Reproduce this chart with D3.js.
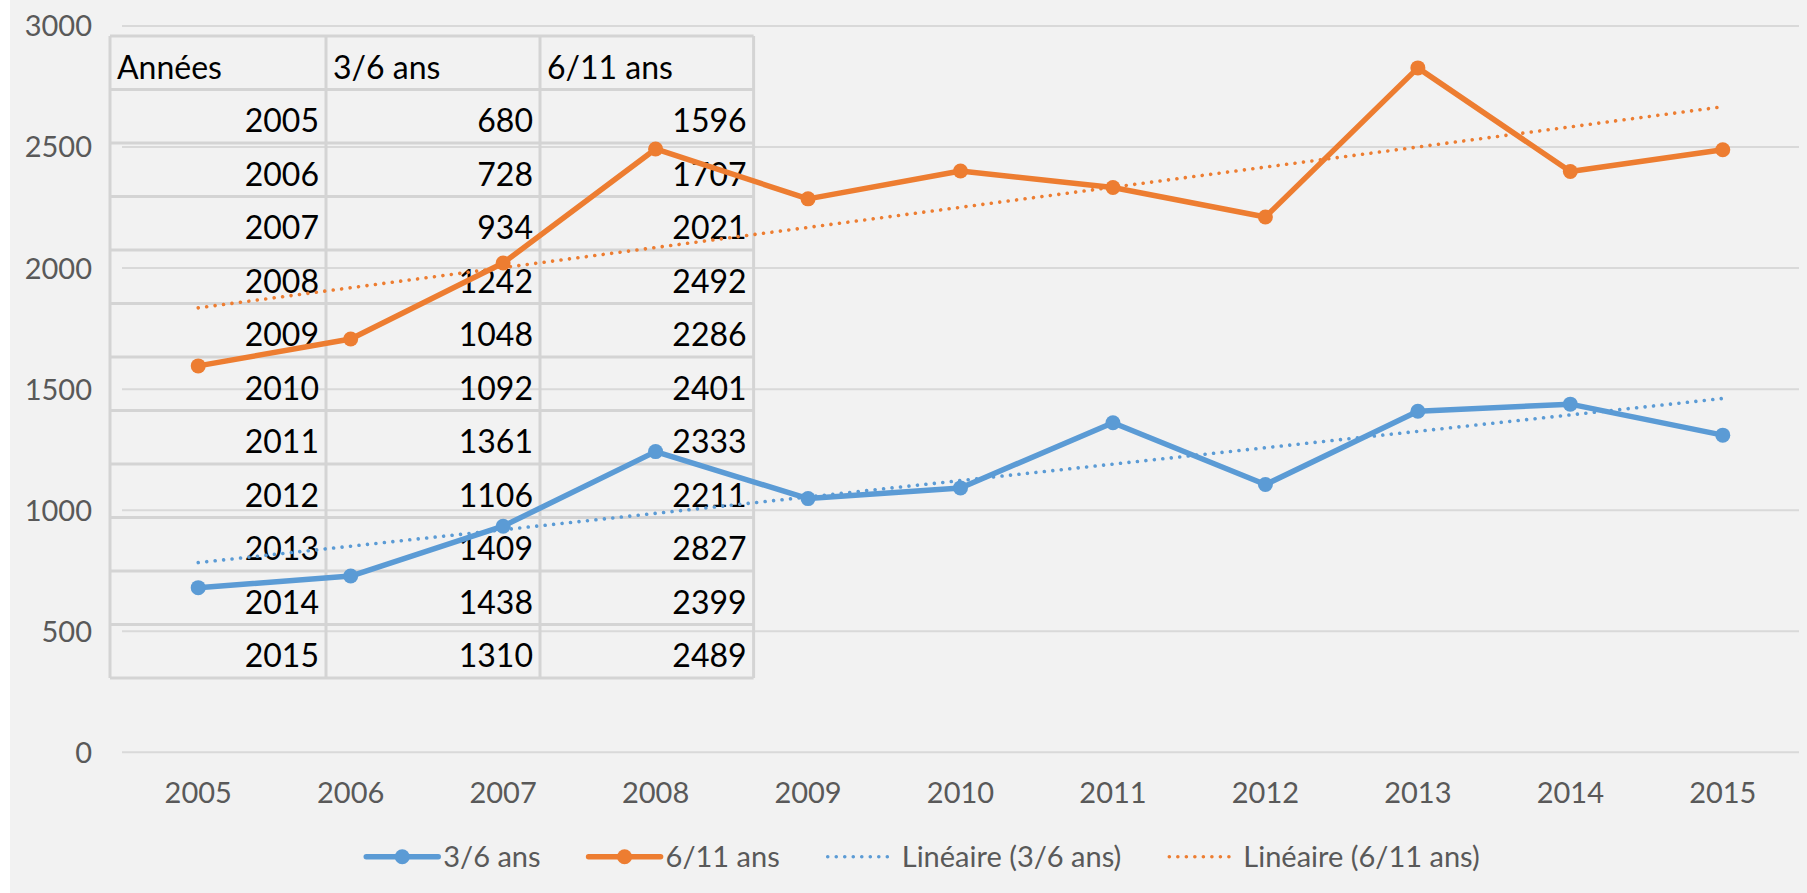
<!DOCTYPE html>
<html>
<head>
<meta charset="utf-8">
<script src="https://cdn.jsdelivr.net/npm/d3@7"></script>
<style>
    body { margin: 0; background: #ffffff; }
    svg { display: block; }
    text { font-family: Lato, "Open Sans", sans-serif; }
</style>
</head>
<body>
<div id="chartDiv"></div>
<script>
// data (same values as the table in the chart)
const years = ['2005', '2006', '2007', '2008', '2009', '2010', '2011', '2012', '2013', '2014', '2015'];
const ages36 = [680, 728, 934, 1242, 1048, 1092, 1361, 1106, 1409, 1438, 1310];
const ages611 = [1596, 1707, 2021, 2492, 2286, 2401, 2333, 2211, 2827, 2399, 2489];
const yTicks = [0, 500, 1000, 1500, 2000, 2500, 3000];
const tableHeader = ['Années', '3/6 ans', '6/11 ans'];
const legendLabels = ['3/6 ans', '6/11 ans', 'Linéaire (3/6 ans)', 'Linéaire (6/11 ans)'];

const width = 1807;
const height = 893;
const blue = '#5b9bd5';
const orange = '#ed7d31';
const axisFont = 29;

const svg = d3.select('#chartDiv')
    .append('svg')
    .attr('width', width)
    .attr('height', height);

// chart area background, a thin white strip stays on the left
svg.append('rect')
    .attr('x', 10).attr('y', 0)
    .attr('width', width - 10).attr('height', height)
    .attr('fill', '#f2f2f2');

const x = d3.scalePoint()
    .domain(years)
    .range([122, 1799])
    .padding(0.5);

const y = d3.scaleLinear()
    .domain([0, 3000])
    .range([752.3, 26]);

// gridlines
svg.append('g')
    .selectAll('line')
    .data(yTicks).enter()
    .append('line')
    .attr('x1', 122).attr('x2', 1799)
    .attr('y1', d => y(d)).attr('y2', d => y(d))
    .attr('stroke', '#d9d9d9')
    .attr('stroke-width', 2);

// y tick labels
svg.append('g')
    .selectAll('text')
    .data(yTicks).enter()
    .append('text')
    .attr('x', 92)
    .attr('y', d => y(d))
    .attr('dy', '0.36em')
    .attr('text-anchor', 'end')
    .attr('font-size', axisFont)
    .attr('fill', '#595959')
    .text(d => d);

// x tick labels
svg.append('g')
    .selectAll('text')
    .data(years).enter()
    .append('text')
    .attr('x', d => x(d))
    .attr('y', 793)
    .attr('dy', '0.36em')
    .attr('text-anchor', 'middle')
    .attr('font-size', axisFont)
    .attr('fill', '#595959')
    .text(d => d);

// the data table pasted over the plot
const table = svg.append('g');
const colEdges = [110, 326, 540, 753.6];
const rowTop = 36;
const rowH = 53.5;
const rows = [tableHeader].concat(years.map((yr, i) => [yr, ages36[i], ages611[i]]));

table.selectAll('line.h')
    .data(d3.range(rows.length + 1)).enter()
    .append('line')
    .attr('class', 'h')
    .attr('x1', colEdges[0]).attr('x2', colEdges[3])
    .attr('y1', d => rowTop + d * rowH).attr('y2', d => rowTop + d * rowH)
    .attr('stroke', '#d4d4d4')
    .attr('stroke-width', 3);

table.selectAll('line.v')
    .data(colEdges).enter()
    .append('line')
    .attr('class', 'v')
    .attr('x1', d => d).attr('x2', d => d)
    .attr('y1', rowTop).attr('y2', rowTop + rows.length * rowH)
    .attr('stroke', '#d4d4d4')
    .attr('stroke-width', 3);

rows.forEach((row, r) => {
    row.forEach((cell, c) => {
        const header = r === 0;
        table.append('text')
            .attr('x', header ? colEdges[c] + 7 : colEdges[c + 1] - 7)
            .attr('y', rowTop + (r + 1) * rowH - 11)
            .attr('text-anchor', header ? 'start' : 'end')
            .attr('font-size', 32)
            .attr('fill', '#000000')
            .text(cell);
    });
});

// linear trend (least squares on year index), as Excel's "Linéaire"
function trend(values) {
    const xs = values.map((v, i) => i);
    const mx = d3.mean(xs);
    const my = d3.mean(values);
    const slope = d3.sum(xs, (xi, i) => (xi - mx) * (values[i] - my)) / d3.sum(xs, xi => (xi - mx) * (xi - mx));
    const icpt = my - slope * mx;
    return [[years[0], icpt], [years[years.length - 1], icpt + slope * (years.length - 1)]];
}

const lineFunc = d3.line()
    .x(d => x(d[0]))
    .y(d => y(d[1]));

const series = [
    {values: ages36, color: blue},
    {values: ages611, color: orange}
];

series.forEach(s => {
    svg.append('path')
        .attr('d', lineFunc(trend(s.values)))
        .attr('fill', 'none')
        .attr('stroke', s.color)
        .attr('stroke-width', 3.6)
        .attr('stroke-linecap', 'round')
        .attr('stroke-dasharray', '0.01,8.5');
});

series.forEach(s => {
    const pts = years.map((yr, i) => [yr, s.values[i]]);
    svg.append('path')
        .attr('d', lineFunc(pts))
        .attr('fill', 'none')
        .attr('stroke', s.color)
        .attr('stroke-width', 5.5)
        .attr('stroke-linejoin', 'round');

    svg.append('g')
        .selectAll('circle')
        .data(pts).enter()
        .append('circle')
        .attr('cx', d => x(d[0]))
        .attr('cy', d => y(d[1]))
        .attr('r', 7.5)
        .attr('fill', s.color);
});

// legend
const legendItems = [
    {label: legendLabels[0], color: blue, kind: 'line'},
    {label: legendLabels[1], color: orange, kind: 'line'},
    {label: legendLabels[2], color: blue, kind: 'dot'},
    {label: legendLabels[3], color: orange, kind: 'dot'}
];
const legend = svg.append('g');
const ly = 856.7;
let lx = 0;
legendItems.forEach(item => {
    const g = legend.append('g').attr('transform', 'translate(' + lx + ',0)');
    const symW = item.kind === 'line' ? 72 : 66;
    const gap = item.kind === 'line' ? 5 : 8;
    g.append('line')
        .attr('x1', 0).attr('x2', symW)
        .attr('y1', ly).attr('y2', ly)
        .attr('stroke', item.color)
        .attr('stroke-width', item.kind === 'line' ? 5.5 : 3.6)
        .attr('stroke-linecap', 'round')
        .attr('stroke-dasharray', item.kind === 'line' ? null : '0.01,8.5');
    if (item.kind === 'line') {
        g.append('circle')
            .attr('cx', symW / 2).attr('cy', ly).attr('r', 7.5)
            .attr('fill', item.color);
    }
    const t = g.append('text')
        .attr('x', symW + gap)
        .attr('y', ly)
        .attr('dy', '0.36em')
        .attr('font-size', axisFont)
        .attr('fill', '#595959')
        .text(item.label);
    lx += symW + gap + t.node().getComputedTextLength() + 48;
});
const lw = legend.node().getBBox();
legend.attr('transform', 'translate(' + (923 - lw.width / 2 - lw.x) + ',0)');
</script>
</body>
</html>
